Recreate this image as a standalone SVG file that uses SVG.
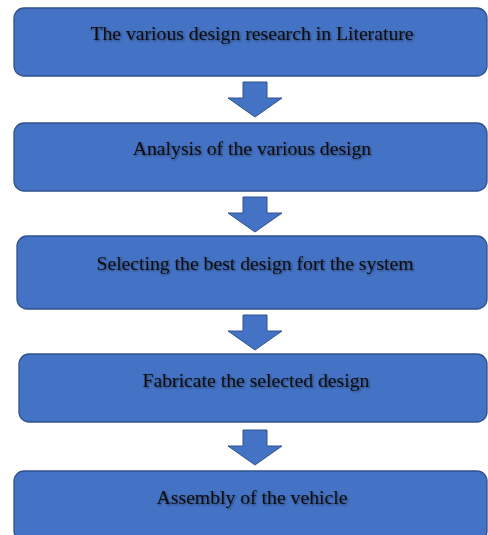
<svg xmlns="http://www.w3.org/2000/svg" width="488" height="535" viewBox="0 0 488 535">
<defs>
<filter id="ts" x="-5%" y="-30%" width="110%" height="160%">
<feGaussianBlur in="SourceAlpha" stdDeviation="0.8" result="b"/>
<feOffset in="b" dx="1" dy="1" result="o"/>
<feComponentTransfer in="o" result="s"><feFuncA type="linear" slope="0.5"/></feComponentTransfer>
<feMerge><feMergeNode in="s"/><feMergeNode in="SourceGraphic"/></feMerge>
</filter>
<path id="arr" d="M-12,0 H12 V16 H27 L0,35 L-27,16 H-12 Z"/>
</defs>
<style>
.box{fill:#4472C4;stroke:#2F528F;stroke-width:1.3}
.lbl{font-family:"Liberation Serif","Times New Roman",serif;font-size:19.7px;fill:#0d0d0d;text-anchor:middle;filter:url(#ts)}
.arrow{fill:#4472C4;stroke:#2F528F;stroke-width:1}
</style>
<rect width="488" height="535" fill="#ffffff"/>
<g id="connectors">
<use href="#arr" class="arrow" x="255" y="82"/>
<use href="#arr" class="arrow" x="255" y="197"/>
<use href="#arr" class="arrow" x="255" y="315"/>
<use href="#arr" class="arrow" x="255" y="430"/>
</g>
<g id="n1">
<rect class="box" x="14" y="8" width="473" height="68" rx="10"/>
<text class="lbl" x="252" y="40">The various design research in Literature</text>
</g>
<g id="n2">
<rect class="box" x="14" y="123" width="473" height="68" rx="10"/>
<text class="lbl" x="252" y="155">Analysis of the various design</text>
</g>
<g id="n3">
<rect class="box" x="17" y="236" width="470" height="73" rx="10"/>
<text class="lbl" x="255" y="270">Selecting the best design fort the system</text>
</g>
<g id="n4">
<rect class="box" x="19" y="354" width="468" height="68" rx="10"/>
<text class="lbl" x="256" y="387">Fabricate the selected design</text>
</g>
<g id="n5">
<rect class="box" x="14" y="471" width="473" height="70" rx="10"/>
<text class="lbl" x="252" y="504">Assembly of the vehicle</text>
</g>
</svg>
